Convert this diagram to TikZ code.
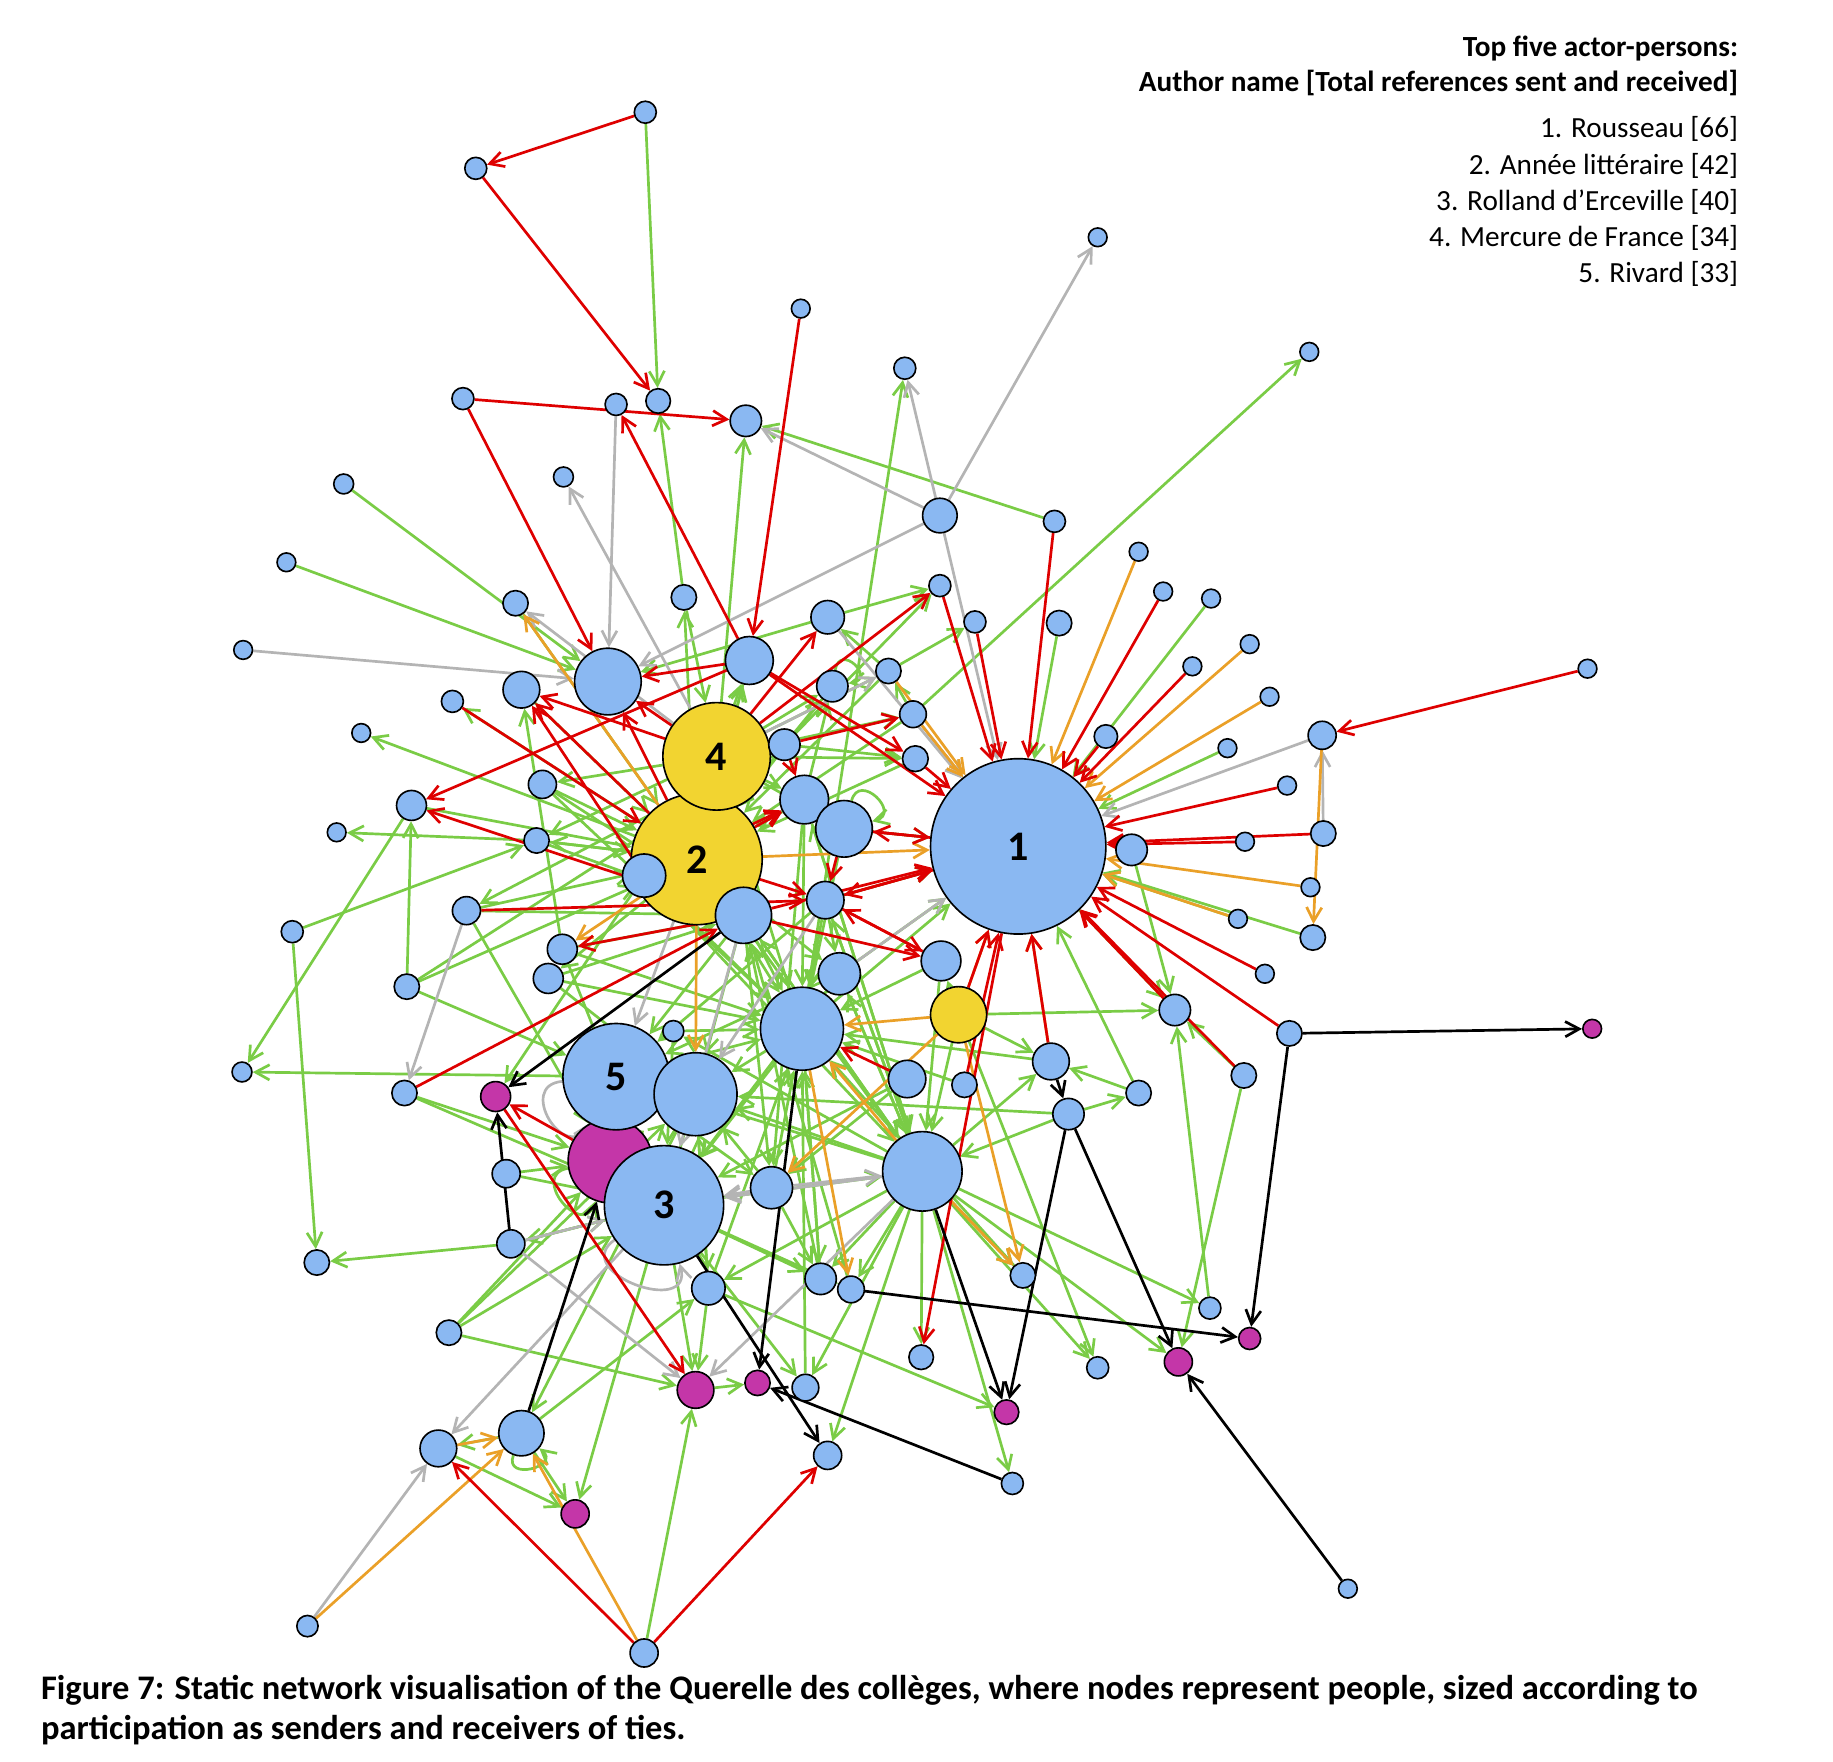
\documentclass[tikz,border=0pt]{standalone}
\usepackage{fontspec}
\setmainfont{Carlito}
\usetikzlibrary{arrows.meta}
\definecolor{cBlue}{RGB}{138,184,242}
\definecolor{cYellow}{RGB}{242,212,48}
\definecolor{cMag}{RGB}{196,54,168}
\definecolor{cRed}{RGB}{222,0,0}
\definecolor{cGreen}{RGB}{122,204,70}
\definecolor{cOrange}{RGB}{234,160,40}
\definecolor{cGray}{RGB}{180,180,180}
\pgfdeclarelayer{edges}
\pgfsetlayers{edges,main}
\begin{document}
\begin{tikzpicture}[x=1pt,y=-1pt,
  nd/.style={circle,draw=black,line width=1.4pt,inner sep=0pt},
  bnode/.style={nd,fill=cBlue},
  ynode/.style={nd,fill=cYellow},
  mnode/.style={nd,fill=cMag},
  lab/.style={font=\bfseries\fontsize{36}{36}\selectfont},
  edg/.style={line width=2.3pt,-{Straight Barb[length=12pt,width=13pt]}},
  gn/.style={edg,draw=cGreen},
  rd/.style={edg,draw=cRed},
  og/.style={edg,draw=cOrange},
  gy/.style={edg,draw=cGray},
  bk/.style={edg,draw=black},
  legb/.style={anchor=base east,inner sep=0pt,font=\bfseries\fontsize{25}{29}\selectfont},
  legn/.style={anchor=base east,inner sep=0pt,font=\fontsize{25}{29}\selectfont},
  capt/.style={anchor=base west,inner sep=0pt,font=\bfseries\fontsize{29.5}{34}\selectfont}
]
\useasboundingbox (0,0) rectangle (1568,1507);

% big nodes first
\node[ynode,minimum size=112,lab] (n55) at (596,735) {2};
\node[ynode,minimum size=92,lab] (n42) at (613,647) {4};
\node[bnode,minimum size=150,lab] (n53) at (871,724) {1};
\node[mnode,minimum size=72] (n87) at (522,993) {};
\node[bnode,minimum size=91,lab] (n76) at (527,921) {5};
\node[bnode,minimum size=102,lab] (n88) at (568,1031) {3};
\node[bnode,minimum size=71] (n77) at (595,936) {};
\node[bnode,minimum size=68] (n89) at (789,1002) {};
\node[bnode,minimum size=71] (n72) at (686,880) {};
\node[bnode,minimum size=57] (n27) at (520,583) {};
\node[ynode,minimum size=48] (n71) at (820,868) {};

\foreach \i/\x/\y/\r in {
1/552/96/9.4, 2/407/144/9.4, 3/939/203/8, 4/685/264/8, 5/1120/301/8,
6/774/315/9.4, 7/396/341/9.4, 8/527/346/9.4, 9/563/343/10.5, 10/638/360/13.4,
11/482/408/8.5, 12/294/414/8.5, 13/804/441/14.8, 14/902/446/9.4, 15/245/481/8,
16/974/472/8, 17/804/501/9.4, 18/995/506/8, 19/1036/512/8, 20/441/516/10.8,
21/585/511/10.8, 22/708/528/14.3, 23/834/532/9.4, 24/906/533/10.8, 25/1069/551/8,
26/208/556/8, 28/641/565/20.5, 29/760/574/10.8, 30/1020/570/8, 31/712/587/13.4,
32/446/590/15.7, 33/1358/572/8, 34/1086/596/8, 35/387/600/9.4, 36/781/611/11.4,
37/1131/629/12, 38/309/627/8, 39/946/630/10, 40/1050/640/8, 41/671/637/13.4,
43/783/649/11, 44/464/671/12, 45/1101/672/8, 46/688/684/20.8, 47/352/689/12.8,
48/722/709/24.2, 49/288/712/8, 50/459/719/10.8, 51/1132/713/10.8, 52/1065/720/8,
54/968/727/13.4, 56/551/749/18.5, 57/706/770/16, 58/636/783/24, 59/399/779/12,
60/1121/759/8, 61/1059/786/8, 62/250/797/9.4, 63/1123/802/10.8, 65/469/837/12.8,
64/481/812/12.8, 66/348/844/10.8, 67/718/833/18, 68/805/822/17, 69/1082/833/8,
70/1005/864/13.4, 73/576/882/9, 74/1103/884/10.8, 78/899/908/15.7, 79/776/923/16,
80/825/928/10.8, 81/207/917/8.5, 82/346/935/10.8, 84/1064/920/10.8, 85/974/935/10.8,
86/914/953/13.4, 90/433/1004/12, 91/660/1016/18, 92/437/1064/12, 93/271/1080/10.8,
94/875/1091/10.8, 95/702/1094/13.4, 96/728/1103/11.4, 97/606/1102/14.3, 98/1035/1119/9.4,
99/384/1140/10.8, 101/788/1161/10.5, 102/939/1170/9.4, 106/689/1187/11.4, 108/375/1239/15.7,
109/446/1226/19.4, 110/708/1245/12, 111/866/1269/9.4, 113/1153/1359/8, 114/263/1391/9.1,
115/551/1414/12}
  \node[bnode,minimum size=2*\r] (n\i) at (\x,\y) {};

\foreach \i/\x/\y/\r in {
75/1362/880/8, 83/424/938/12.8, 100/1069/1145/9.4, 103/1008/1165/12,
104/595/1189/15.7, 105/648/1183/10.8, 107/861/1208/10.5, 112/492/1295/12}
  \node[mnode,minimum size=2*\r] (n\i) at (\x,\y) {};

\begin{pgfonlayer}{edges}
% green
\foreach \a/\b in {
1/9, 21/9, 42/10, 14/10, 72/6, 36/5, 29/23, 12/27, 15/27, 22/27, 64/32, 55/35, 55/38,
50/49, 66/47, 47/81, 41/59, 62/93, 62/50, 66/41, 66/76, 59/87, 82/87, 76/81, 56/83,
90/87, 92/93, 88/92, 99/104, 99/87, 99/77, 77/109, 109/97, 109/108, 108/112, 109/112,
115/104, 77/112, 89/110, 104/105, 89/111, 89/102, 89/103, 84/103, 98/70, 71/70, 71/78,
85/78, 85/53, 86/85, 89/78, 84/70, 54/70, 19/53, 40/53, 61/53, 63/53, 24/53, 42/29,
41/43, 55/21, 42/28, 55/28, 89/101, 88/106, 89/106, 97/107, 97/104, 88/104, 71/102,
89/94, 89/98, 78/72, 86/77, 86/89, 53/70, 41/17, 22/17,
55/72, 55/67, 55/89, 58/72, 58/89, 58/91, 42/72, 42/48, 42/46, 42/43, 42/36, 42/31,
46/72, 46/91, 48/72, 57/72, 57/67, 67/72, 68/72, 72/77, 72/88, 76/72, 88/89, 89/77,
89/76, 91/72, 91/77, 64/72, 65/72, 65/77, 64/88, 56/72, 56/89, 50/55, 44/55, 44/58,
32/55, 47/55, 59/58, 66/55, 82/88, 90/88, 92/88, 99/88, 97/72, 97/77, 95/72, 95/58,
96/58, 94/72, 106/72, 79/91, 79/88, 80/72, 71/89, 71/68, 68/89, 67/89, 57/89, 46/89,
73/72, 73/88, 21/42, 28/55, 41/55, 31/55, 29/55, 36/55, 43/55, 48/53, 57/53, 67/53,
72/53, 46/55, 89/97, 89/95, 89/96, 72/95, 77/97, 91/95, 67/88, 67/76, 58/76,
58/77, 57/76, 55/65, 55/50, 42/44, 42/50, 89/73, 76/91, 88/95, 88/96, 89/58, 89/67,
89/57, 89/46, 65/58, 64/58, 44/72, 50/58, 20/55, 36/29, 29/22, 41/31, 46/31, 59/55}
  \draw[gn] (n\a) -- (n\b);
\draw[gn] (n31) to[out=80,in=10,min distance=24pt] (n31);
\draw[gn] (n48) to[out=75,in=15,min distance=26pt] (n48);
\draw[gn] (n87) to[out=190,in=250,min distance=34pt] (n87);
\draw[gn] (n109) to[out=250,in=320,min distance=24pt] (n109);
% gray
\foreach \a/\b in {
8/27, 13/10, 13/3, 13/6, 13/53, 42/11, 26/27, 13/27, 22/53, 42/29, 59/82, 88/108,
114/108, 92/104, 89/104, 91/89, 89/88, 91/88, 37/53, 51/37, 36/53, 92/88, 42/20,
55/76, 58/88, 57/77, 67/53}
  \draw[gy] (n\a) -- (n\b);
\draw[gy] (n76) to[out=185,in=240,min distance=40pt] (n76);
\draw[gy] (n88) to[out=215,in=285,min distance=48pt] (n88);
% orange
\foreach \a/\b in {
55/20, 16/53, 25/53, 34/53, 60/53, 37/63, 29/53, 55/53, 71/72, 72/96, 114/109,
108/109, 115/109, 78/53, 89/72, 71/91, 36/53, 71/94, 89/94, 55/77, 61/53, 71/53, 55/64}
  \draw[og] (n\a) -- (n\b);
% red
\foreach \a/\b in {
1/2, 2/9, 7/10, 7/27, 28/8, 4/28, 28/47, 58/47, 59/57, 82/58, 87/83, 83/104, 115/108,
115/110, 14/53, 18/53, 39/53, 30/53, 45/53, 52/53, 51/53, 33/37, 17/53, 23/53, 84/53,
70/53, 69/53, 74/53, 78/53, 42/22, 42/17, 41/36, 41/46, 53/48, 48/53, 48/57, 53/57,
57/53, 55/46, 56/46, 79/72, 28/27, 42/27, 55/27, 35/55, 42/32, 55/32, 56/32, 28/43,
58/64, 58/68, 57/68, 68/57, 58/53, 71/53, 80/53, 53/101, 28/53, 55/57, 43/53}
  \draw[rd] (n\a) -- (n\b);
% black
\foreach \a/\b in {
58/83, 92/83, 109/87, 72/105, 88/110, 111/105, 89/107, 86/107, 86/103, 113/103,
74/100, 96/100, 74/75, 78/86}
  \draw[bk] (n\a) -- (n\b);
\end{pgfonlayer}

% legend
\node[legb] (lt1) at (1487,48) {Top five actor-persons:};
\node[legb] (lt2) at (1487,78) {Author name [Total references sent and received]};
\node[legn] (l1) at (1487,118) {1. Rousseau [66]};
\node[legn] (l2) at (1487,149) {2. Année littéraire [42]};
\node[legn] (l3) at (1487,180) {3. Rolland d’Erceville [40]};
\node[legn] (l4) at (1487,211) {4. Mercure de France [34]};
\node[legn] (l5) at (1487,242) {5. Rivard [33]};

% caption
\node[capt] (cap1) at (35,1454) {Figure 7: Static network visualisation of the Querelle des collèges, where nodes represent people, sized according to};
\node[capt] (cap2) at (35,1488) {participation as senders and receivers of ties.};
\end{tikzpicture}
\end{document}
